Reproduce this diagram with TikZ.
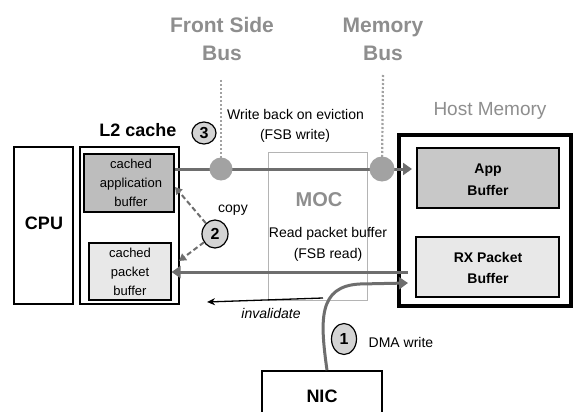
\documentclass[tikz,border=0pt]{standalone}
\usepackage{fontspec}
\setmainfont{Liberation Sans}
\usetikzlibrary{arrows.meta,shapes.geometric}
\definecolor{busgray}{HTML}{8E8E8E}
\definecolor{linegray}{HTML}{6E6E6E}
\definecolor{dotgray}{HTML}{A2A2A2}
\definecolor{darkfill}{HTML}{BDBDBD}
\definecolor{appfill}{HTML}{C8C8C8}
\definecolor{lightfill}{HTML}{E8E8E8}
\definecolor{numfill}{HTML}{D4D4D4}
\definecolor{mocgray}{HTML}{B4B4B4}
\begin{document}
\begin{tikzpicture}[x=1pt,y=-1pt,
  bx/.style={draw=black, line width=#1, inner sep=0pt},
  sz/.style 2 args={minimum width=#1pt, minimum height=#2pt},
  txt/.style={anchor=base, inner sep=0pt, font=\fontsize{14}{17}\selectfont},
  smalltxt/.style={anchor=base, inner sep=0pt, font=\fontsize{13}{16}\selectfont},
  btxt/.style={anchor=base, inner sep=0pt, font=\bfseries\fontsize{14}{17}\selectfont},
  bigtxt/.style={anchor=base, inner sep=0pt, font=\bfseries\fontsize{18}{21}\selectfont},
  bustxt/.style={anchor=base, inner sep=0pt, text=busgray, font=\bfseries\fontsize{21}{25}\selectfont},
  numc/.style={ellipse, draw=black, line width=1.2pt, fill=numfill, inner sep=0pt, font=\bfseries\fontsize{16}{16}\selectfont},
  wline/.style={draw=linegray, line width=3pt, -{Triangle[length=9pt,width=12pt]}},
  dotline/.style={draw=dotgray, line width=2.2pt, dash pattern=on 2pt off 2pt},
  cpline/.style={draw=linegray, line width=2pt, dash pattern=on 5pt off 3pt, -{Triangle[length=7pt,width=8pt]}},
  invline/.style={draw=black, line width=1.3pt, -{Stealth[length=8pt,width=7pt]}},
  buscirc/.style={circle, fill=dotgray, inner sep=0pt}
]
\useasboundingbox (0,0) rectangle (573,412);
\clip (0,0) rectangle (573,412);
\fill[white] (0,0) rectangle (573,412);

% boxes
\node[bx=2pt, sz={59}{157}] (cpu) at (43.5,225.5) {};
\node[bx=2.2pt, sz={99}{157}] (l2) at (129.5,225.5) {};
\node[bx=1.5pt, fill=darkfill, sz={90}{58}] (cab) at (129,183) {};
\node[bx=1.2pt, fill=lightfill, sz={82}{57}] (cpb) at (130,271.5) {};
\node[draw=mocgray, line width=1pt, inner sep=0pt, sz={99}{148}] (moc) at (317.5,226) {};
\node[bx=4pt, sz={172}{171}] (host) at (485,220.5) {};
\node[bx=1.5pt, fill=appfill, sz={142}{60}] (app) at (488,178) {};
\node[bx=1.5pt, fill=lightfill, sz={143}{60}] (rx) at (487.5,267) {};
\node[bx=1.6pt, sz={120}{50}] (nic) at (322,396) {};

% connectors
\coordinate (fsbc) at (221,169);
\coordinate (memc) at (382,169);
\coordinate (wbtip) at (412,169);
\coordinate (fsbtop) at (221,80);
\coordinate (memtop) at (383,75);
\draw[dotline] (fsbtop) -- (fsbc);
\draw[dotline] (memtop) -- (memc);
\draw[wline] (cab.east |- fsbc) -- (wbtip);
\coordinate (rdstart) at (408,272);
\draw[wline] (rdstart) -- (cpb.east |- rdstart);
\coordinate (dmatip) at (408,283);
\draw[wline] ([xshift=5pt]nic.north) .. controls (320,320) and (318,286) .. (360,284) -- (dmatip);
\coordinate (invstart) at (323,298);
\coordinate (invtip) at (207,302);
\draw[invline] (invstart) -- (invtip);

\node[buscirc, minimum size=23pt] (fsb) at (fsbc) {};
\node[buscirc, minimum size=25pt] (mem) at (memc) {};

\node[numc, sz={24}{22}] (n3) at (204,133) {3};
\node[numc, sz={26}{28}] (n2) at (215,234) {2};
\node[numc, sz={25}{31}] (n1) at (344,339) {1};
\coordinate (cpup) at (175,187);
\coordinate (cpdn) at (179,261);
\draw[cpline] (n2) -- (cpup);
\draw[cpline] (n2) -- (cpdn);

% texts
\node[bustxt] (fs1) at (222,33) {Front Side};
\node[bustxt] (fs2) at (222,60) {Bus};
\node[bustxt] (mb1) at (383,33) {Memory};
\node[bustxt] (mb2) at (383,60) {Bus};
\node[anchor=base, inner sep=0pt, text=busgray, font=\fontsize{19}{22}\selectfont] (hosttxt) at (490,115) {Host Memory};
\node[bigtxt] (l2txt) at (138,136) {L2 cache};
\node[bigtxt] (cputxt) at (44,229) {CPU};
\node[smalltxt] (cab1) at (131,168) {cached};
\node[smalltxt] (cab2) at (131,187) {application};
\node[smalltxt] (cab3) at (131,206) {buffer};
\node[smalltxt] (cpb1) at (130,257) {cached};
\node[smalltxt] (cpb2) at (130,276) {packet};
\node[smalltxt] (cpb3) at (130,295) {buffer};
\node[btxt] (app1) at (488,173) {App};
\node[btxt] (app2) at (488,195) {Buffer};
\node[btxt] (rx1) at (488,262) {RX Packet};
\node[btxt] (rx2) at (488,283) {Buffer};
\node[anchor=base, inner sep=0pt, text=busgray, font=\bfseries\fontsize{20}{24}\selectfont] (moctxt) at (319,206) {MOC};
\node[bigtxt] (nictxt) at (322,402) {NIC};
\node[txt] (wb1) at (295.5,119) {Write back on eviction};
\node[txt] (wb2) at (295,139) {(FSB write)};
\node[txt] (rd1) at (328,237) {Read packet buffer};
\node[txt] (rd2) at (328,258) {(FSB read)};
\node[txt] (copytxt) at (233,212) {copy};
\node[txt, font=\itshape\fontsize{14}{17}\selectfont] (invtxt) at (271,318) {invalidate};
\node[txt] (dmatxt) at (401,347) {DMA write};
\end{tikzpicture}
\end{document}
